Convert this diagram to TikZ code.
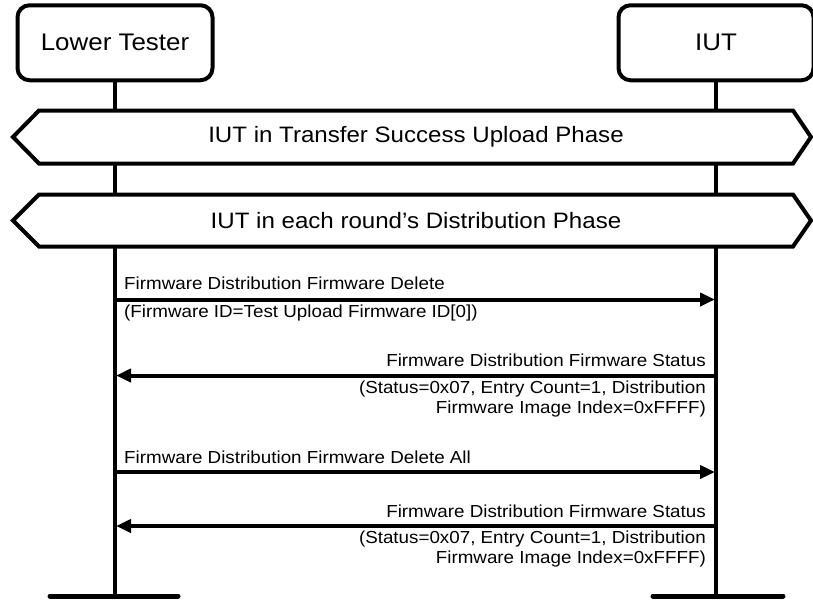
\documentclass[tikz,border=0pt]{standalone}
\usepackage{fontspec}
\setmainfont{Liberation Sans}[FakeStretch=1.08]
\usetikzlibrary{arrows.meta}
\begin{document}
\begin{tikzpicture}[x=1pt,y=-1pt,
  actor/.style={draw, line width=4pt, rounded corners=12pt, minimum width=195pt,
    minimum height=75pt, inner sep=0pt, fill=white, font=\fontsize{24}{28}\selectfont},
  life/.style={line width=3.5pt},
  foot/.style={line width=5pt, line cap=round},
  phasebox/.style={draw, line width=4pt, fill=white, line join=miter},
  phasetext/.style={inner sep=0pt, font=\fontsize{22.3}{26}\selectfont},
  msg/.style={line width=4pt, -{Triangle[length=15pt,width=13pt]}},
  lbl/.style={inner sep=0pt, font=\fontsize{17.4}{20}\selectfont}]
\useasboundingbox (0,0) rectangle (813,600);

% lifeline heads
\node[actor] (lt)  at (115,42.75) {Lower Tester};
\node[actor] (iut) at (716,42.75) {IUT};

% lifelines and their feet
\coordinate (ltend)  at (115,596);
\coordinate (iutend) at (716,596);
\draw[life] (lt.south) -- (ltend);
\draw[life] (iut.south) -- (iutend);
\coordinate (ltfootL) at (50,596);  \coordinate (ltfootR) at (178,596);
\coordinate (iutfootL) at (653,596); \coordinate (iutfootR) at (783,596);
\draw[foot] (ltfootL) -- (ltfootR);
\draw[foot] (iutfootL) -- (iutfootR);

% phase banners
\draw[phasebox] (13,137) -- (39,110.5) -- (793,110.5) -- (811,137) -- (793,163.5) -- (39,163.5) -- cycle;
\node[phasetext] (ph1) at (416,137) {IUT in Transfer Success Upload Phase};
\draw[phasebox] (13,220.5) -- (39,194.5) -- (793,194.5) -- (811,220.5) -- (793,246.5) -- (39,246.5) -- cycle;
\node[phasetext] (ph2) at (416,220.5) {IUT in each round’s Distribution Phase};

% message 1
\coordinate (a1) at (115,299.5); \coordinate (b1) at (715,299.5);
\draw[msg] (a1) -- (b1);
\node[lbl, anchor=base west] (m1t) at (124,289.5) {Firmware Distribution Firmware Delete};
\node[lbl, anchor=base west] (m1b) at (124,317) {(Firmware ID=Test Upload Firmware ID[0])};

% message 2 (base of a multi-line label is its last line)
\coordinate (a2) at (716,375.5); \coordinate (b2) at (116,375.5);
\draw[msg] (a2) -- (b2);
\node[lbl, anchor=base east] (m2t) at (706,366) {Firmware Distribution Firmware Status};
\node[lbl, anchor=base east, align=right] (m2b) at (706,413)
  {(Status=0x07, Entry Count=1, Distribution\\Firmware Image Index=0xFFFF)};

% message 3
\coordinate (a3) at (115,472); \coordinate (b3) at (715,472);
\draw[msg] (a3) -- (b3);
\node[lbl, anchor=base west] (m3t) at (124,463) {Firmware Distribution Firmware Delete All};

% message 4
\coordinate (a4) at (716,526); \coordinate (b4) at (116,526);
\draw[msg] (a4) -- (b4);
\node[lbl, anchor=base east] (m4t) at (706,517) {Firmware Distribution Firmware Status};
\node[lbl, anchor=base east, align=right] (m4b) at (706,563.5)
  {(Status=0x07, Entry Count=1, Distribution\\Firmware Image Index=0xFFFF)};
\end{tikzpicture}
\end{document}
